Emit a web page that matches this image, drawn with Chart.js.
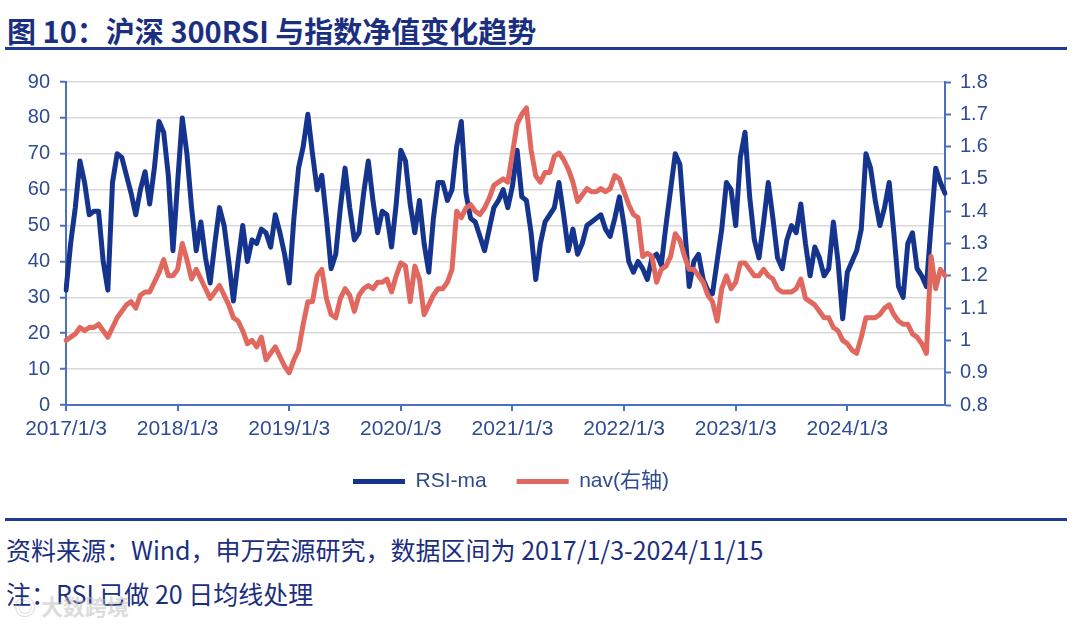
<!DOCTYPE html>
<html>
<head>
<meta charset="utf-8">
<script src="https://cdn.jsdelivr.net/npm/chart.js@4.4.1/dist/chart.umd.min.js"></script>
<style>
  body { margin: 0; width: 1080px; height: 626px; background: #fff; position: relative; overflow: hidden;
         font-family: "Noto Sans CJK SC", sans-serif; }
  #title { position: absolute; left: 7px; top: 12px; font-size: 29px; line-height: 36px; font-weight: bold; color: #1b2f80; white-space: nowrap; }
  .rule { position: absolute; left: 5px; width: 1062px; height: 3px; background: #1d3a94; }
  #wrap { position: absolute; left: 0; top: 60px; width: 1080px; height: 450px; }
  .note { position: absolute; left: 6px; font-size: 25px; line-height: 30px; color: #1b2f80; white-space: nowrap; }
  #mark { position: absolute; left: 14px; top: 590px; font-size: 22px; line-height: 30px; color: rgba(190,190,190,0.55); font-weight: bold; }
</style>
</head>
<body>
<div id="title">图 10：沪深 300RSI 与指数净值变化趋势</div>
<div class="rule" style="top:47px"></div>
<div id="wrap"><canvas id="grafico"></canvas></div>
<div class="rule" style="top:518px"></div>
<div class="note" style="top:534px">资料来源：Wind，申万宏源研究，数据区间为 2017/1/3-2024/11/15</div>
<div class="note" style="top:578px">注：RSI 已做 20 日均线处理</div>
<div id="mark">◎ 大数跨境</div>

<script>
// datas de amostragem: dia 3 e 18 de cada mês
const years = [2017, 2018, 2019, 2020, 2021, 2022, 2023, 2024];
const dates = [];
years.forEach(y => {
  for (let m = 1; m <= 12; m++) dates.push(y + '/' + m + '/3', y + '/' + m + '/18');
});
dates.length = 189;
dates.push('2024/11/15');

const yearTicks = ['2017/1/3', '2018/1/3', '2019/1/3', '2020/1/3', '2021/1/3', '2022/1/3', '2023/1/3', '2024/1/3'];

const rsiMa = [
  32, 45, 55, 68, 62, 53, 54, 54, 40, 32, 62, 70, 69, 64, 59, 53, 60, 65, 56, 66, 79, 76, 64, 43,
  62, 80, 70, 55, 43, 51, 41, 34, 45, 55, 50, 40, 29, 40, 50, 40, 46, 45, 49, 48, 44, 53, 48, 42,
  34, 52, 66, 72, 81, 70, 60, 64, 52, 38, 42, 55, 66, 55, 46, 48, 59, 68, 57, 48, 54, 53, 44, 56,
  71, 68, 56, 48, 57, 45, 37, 52, 62, 62, 57, 60, 72, 79, 59, 52, 51, 47, 43, 49, 55, 57, 60, 55,
  61, 71, 58, 57, 48, 35, 45, 51, 53, 55, 62, 53, 43, 49, 42, 45, 50, 51, 52, 53, 49, 47, 52, 58,
  50, 40, 37, 40, 38, 35, 41, 42, 39, 50, 60, 70, 67, 50, 33, 40, 42, 35, 32, 31, 40, 49, 62, 60,
  50, 69, 76, 58, 46, 41, 51, 62, 52, 41, 38, 46, 50, 48, 56, 45, 36, 44, 41, 36, 38, 51, 40, 24,
  37, 40, 43, 49, 70, 66, 57, 50, 55, 62, 48, 33, 30, 45, 48, 38, 36, 33, 50, 66, 62, 59
];

const nav = [
  1.00, 1.01, 1.02, 1.04, 1.03, 1.04, 1.04, 1.05, 1.03, 1.01, 1.04, 1.07, 1.09, 1.11, 1.12, 1.10, 1.14, 1.15, 1.15, 1.18, 1.21, 1.25, 1.20, 1.20,
  1.22, 1.30, 1.25, 1.19, 1.22, 1.19, 1.16, 1.13, 1.15, 1.17, 1.14, 1.11, 1.07, 1.06, 1.03, 0.99, 1.00, 0.98, 1.01, 0.94, 0.96, 0.98, 0.95, 0.92,
  0.90, 0.94, 0.97, 1.05, 1.12, 1.12, 1.20, 1.22, 1.13, 1.08, 1.07, 1.13, 1.16, 1.14, 1.09, 1.14, 1.16, 1.17, 1.16, 1.18, 1.18, 1.19, 1.15, 1.20,
  1.24, 1.23, 1.12, 1.23, 1.19, 1.08, 1.11, 1.14, 1.16, 1.16, 1.18, 1.22, 1.40, 1.38, 1.41, 1.42, 1.40, 1.39, 1.41, 1.44, 1.48, 1.49, 1.50, 1.49,
  1.58, 1.67, 1.70, 1.72, 1.59, 1.51, 1.49, 1.52, 1.52, 1.57, 1.58, 1.56, 1.53, 1.49, 1.43, 1.45, 1.47, 1.46, 1.46, 1.47, 1.46, 1.47, 1.51, 1.50,
  1.46, 1.42, 1.39, 1.38, 1.26, 1.27, 1.26, 1.18, 1.22, 1.23, 1.26, 1.33, 1.31, 1.26, 1.22, 1.22, 1.20, 1.18, 1.14, 1.12, 1.06, 1.16, 1.20, 1.16,
  1.18, 1.24, 1.24, 1.22, 1.20, 1.20, 1.22, 1.20, 1.19, 1.16, 1.15, 1.15, 1.15, 1.16, 1.19, 1.13, 1.12, 1.11, 1.09, 1.07, 1.07, 1.04, 1.03, 1.00,
  0.99, 0.97, 0.96, 1.01, 1.07, 1.07, 1.07, 1.08, 1.10, 1.11, 1.08, 1.06, 1.05, 1.05, 1.02, 1.01, 0.99, 0.96, 1.26, 1.16, 1.22, 1.20
];

const azulEixo = '#4a70c2';
const corTexto = '#2f4c92';
const fonteEixo = { family: '"Liberation Sans", Arial, "Noto Sans CJK SC"', size: 20 };

// legenda um pouco à esquerda, como no original
const puxaLegenda = {
  id: 'puxaLegenda',
  afterLayout(chart) {
    chart.legend.right -= 58;
  }
};

const ctx = document.getElementById('grafico').getContext('2d');
new Chart(ctx, {
  type: 'line',
  data: {
    labels: dates,
    datasets: [
      {
        label: 'RSI-ma',
        data: rsiMa,
        yAxisID: 'y',
        borderColor: '#15348e',
        backgroundColor: '#15348e',
        borderWidth: 5,
        borderJoinStyle: 'round',
        borderCapStyle: 'round',
        pointRadius: 0,
        order: 1
      },
      {
        label: 'nav(右轴)',
        data: nav,
        yAxisID: 'y1',
        borderColor: '#e0685e',
        backgroundColor: '#e0685e',
        borderWidth: 5,
        borderJoinStyle: 'round',
        borderCapStyle: 'round',
        pointRadius: 0,
        order: 0
      }
    ]
  },
  plugins: [puxaLegenda],
  options: {
    responsive: true,
    maintainAspectRatio: false,
    animation: false,
    layout: { padding: { top: 22, bottom: 8, left: 0, right: 0 } },
    plugins: {
      tooltip: { enabled: false },
      legend: {
        position: 'bottom',
        labels: {
          usePointStyle: true,
          pointStyle: 'line',
          pointStyleWidth: 52,
          padding: 30,
          color: corTexto,
          font: { family: '"Liberation Sans", Arial, "Noto Sans CJK SC"', size: 21 },
          sort: (a, b) => a.datasetIndex - b.datasetIndex
        }
      }
    },
    scales: {
      x: {
        type: 'category',
        afterFit: (s) => { s.height = 36; },
        border: { display: true, color: azulEixo, width: 2 },
        grid: {
          drawOnChartArea: false,
          drawTicks: true,
          tickLength: 6,
          lineWidth: 2,
          color: (c) => yearTicks.includes(dates[c.index]) ? azulEixo : 'rgba(0,0,0,0)'
        },
        ticks: {
          autoSkip: false,
          maxRotation: 0,
          minRotation: 0,
          padding: 6,
          color: corTexto,
          font: { family: '"Liberation Sans", Arial', size: 21 },
          callback: function (v) {
            const lab = this.getLabelForValue(v);
            return yearTicks.includes(lab) ? lab : '';
          }
        }
      },
      y: {
        position: 'left',
        min: 0,
        max: 90,
        afterFit: (s) => { s.width = 66; },
        border: { display: true, color: azulEixo, width: 2 },
        grid: { color: '#d9d9d9', lineWidth: 1.5, tickLength: 6, tickColor: azulEixo, tickWidth: 2 },
        ticks: { stepSize: 10, padding: 10, color: corTexto, font: fonteEixo }
      },
      y1: {
        position: 'right',
        min: 0.8,
        max: 1.8,
        afterFit: (s) => { s.width = 135; },
        border: { display: true, color: azulEixo, width: 2 },
        grid: { drawOnChartArea: false, tickLength: 6, color: azulEixo, tickColor: azulEixo, tickWidth: 2 },
        ticks: {
          stepSize: 0.1,
          padding: 9,
          color: corTexto,
          font: fonteEixo,
          callback: (v) => String(Math.round(v * 10) / 10)
        }
      }
    }
  }
});
</script>
</body>
</html>
